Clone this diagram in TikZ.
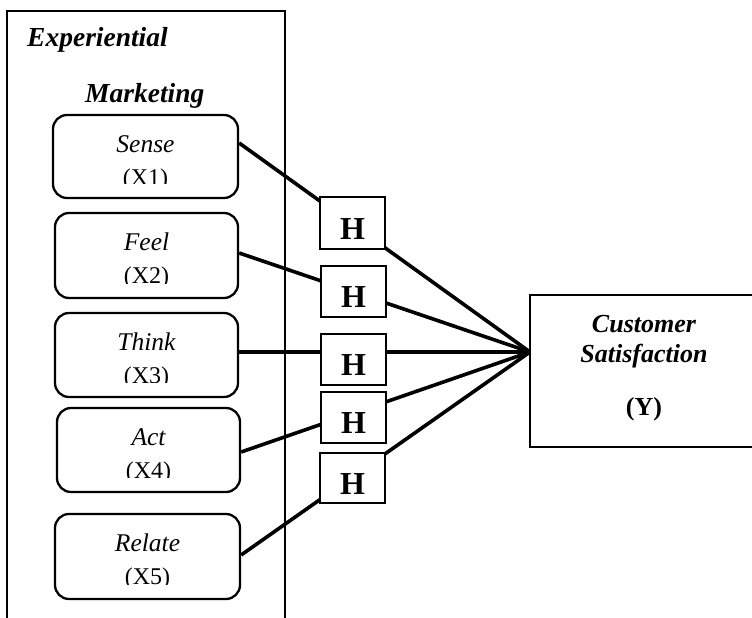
\documentclass[tikz,border=0pt]{standalone}
\usepackage{fontspec}
\setmainfont{Liberation Serif}
\begin{document}
\begin{tikzpicture}[x=1pt,y=-1pt,
  xbox/.style={draw,line width=2.3pt,rounded corners=14pt,inner sep=0pt},
  hbox/.style={draw,line width=2.3pt,fill=white,inner sep=0pt,minimum width=65pt},
  conn/.style={line width=3.6pt},
  lbl/.style={inner sep=0pt,anchor=base,font=\fontsize{25.5}{28}\selectfont\itshape},
  lblx/.style={inner sep=0pt,anchor=base,font=\fontsize{24}{28}\selectfont},
  htxt/.style={inner sep=0pt,anchor=base,font=\fontsize{32}{36}\selectfont\bfseries},
  ttl/.style={inner sep=0pt,anchor=base west,font=\fontsize{27.5}{30}\selectfont\bfseries\itshape},
  ctxt/.style={inner sep=0pt,anchor=base,font=\fontsize{26}{30}\selectfont\bfseries\itshape},
  ytxt/.style={inner sep=0pt,anchor=base,font=\fontsize{26}{30}\selectfont\bfseries}
]
\useasboundingbox (0,0) rectangle (752,618);
\clip (0,0) rectangle (752,618);
% outer frame (open at bottom, beyond page)
\draw[line width=2.3pt] (7,640) -- (7,11) -- (285,11) -- (285,640);
\node[ttl] (t1) at (27,47) {Experiential};
\node[ttl] (t2) at (85,102) {Marketing};
% X boxes
\node[xbox,minimum width=185pt,minimum height=83pt] (sense) at (145.5,156.5) {};
\node[xbox,minimum width=183pt,minimum height=85pt] (feel) at (146.5,255.5) {};
\node[xbox,minimum width=183pt,minimum height=84pt] (think) at (146.5,355) {};
\node[xbox,minimum width=183pt,minimum height=84pt] (act) at (148.5,450) {};
\node[xbox,minimum width=185pt,minimum height=85pt] (relate) at (147.5,556.5) {};
% labels, clipped at bottom like the source text boxes
\foreach \b/\w/\x in {sense/Sense/X1,feel/Feel/X2,think/Think/X3,act/Act/X4,relate/Relate/X5}{
  \begin{scope}
    \clip (\b.north west) rectangle ([yshift=16pt]\b.south east);
    \node[lbl] (\b-w) at ([yshift=-39pt]\b.north) {\w};
    \node[lblx] (\b-x) at ([yshift=-72pt]\b.north) {(\x)};
  \end{scope}
}
% customer satisfaction box (extends past right edge)
\draw[line width=2.3pt] (770,295) -- (530,295) -- (530,447) -- (770,447);
\coordinate (hub) at (530,352);
\node[ctxt] (c1) at (644,332) {Customer};
\node[ctxt] (c2) at (644,362) {Satisfaction};
\node[ytxt] (y) at (644,415) {(Y)};
% connectors
\draw[conn] ([yshift=13.5pt]sense.east) -- (hub);
\draw[conn] ([yshift=2.5pt]feel.east) -- (hub);
\draw[conn] ([yshift=3pt]think.east) -- (hub);
\draw[conn] ([yshift=-2pt]act.east) -- (hub);
\draw[conn] ([yshift=1.5pt]relate.east) -- (hub);
% H boxes
\node[hbox,minimum height=52pt] (h1) at (352.5,223) {};
\node[hbox,minimum height=51pt] (h2) at (353.5,291.5) {};
\node[hbox,minimum height=51pt] (h3) at (353.5,359.5) {};
\node[hbox,minimum height=51pt] (h4) at (353.5,417.5) {};
\node[hbox,minimum height=50pt] (h5) at (352.5,478) {};
\foreach \h in {h1,h2,h3,h4,h5}{
  \node[htxt] (\h-t) at ([yshift=-16pt]\h.center) {H};
}
\end{tikzpicture}
\end{document}
